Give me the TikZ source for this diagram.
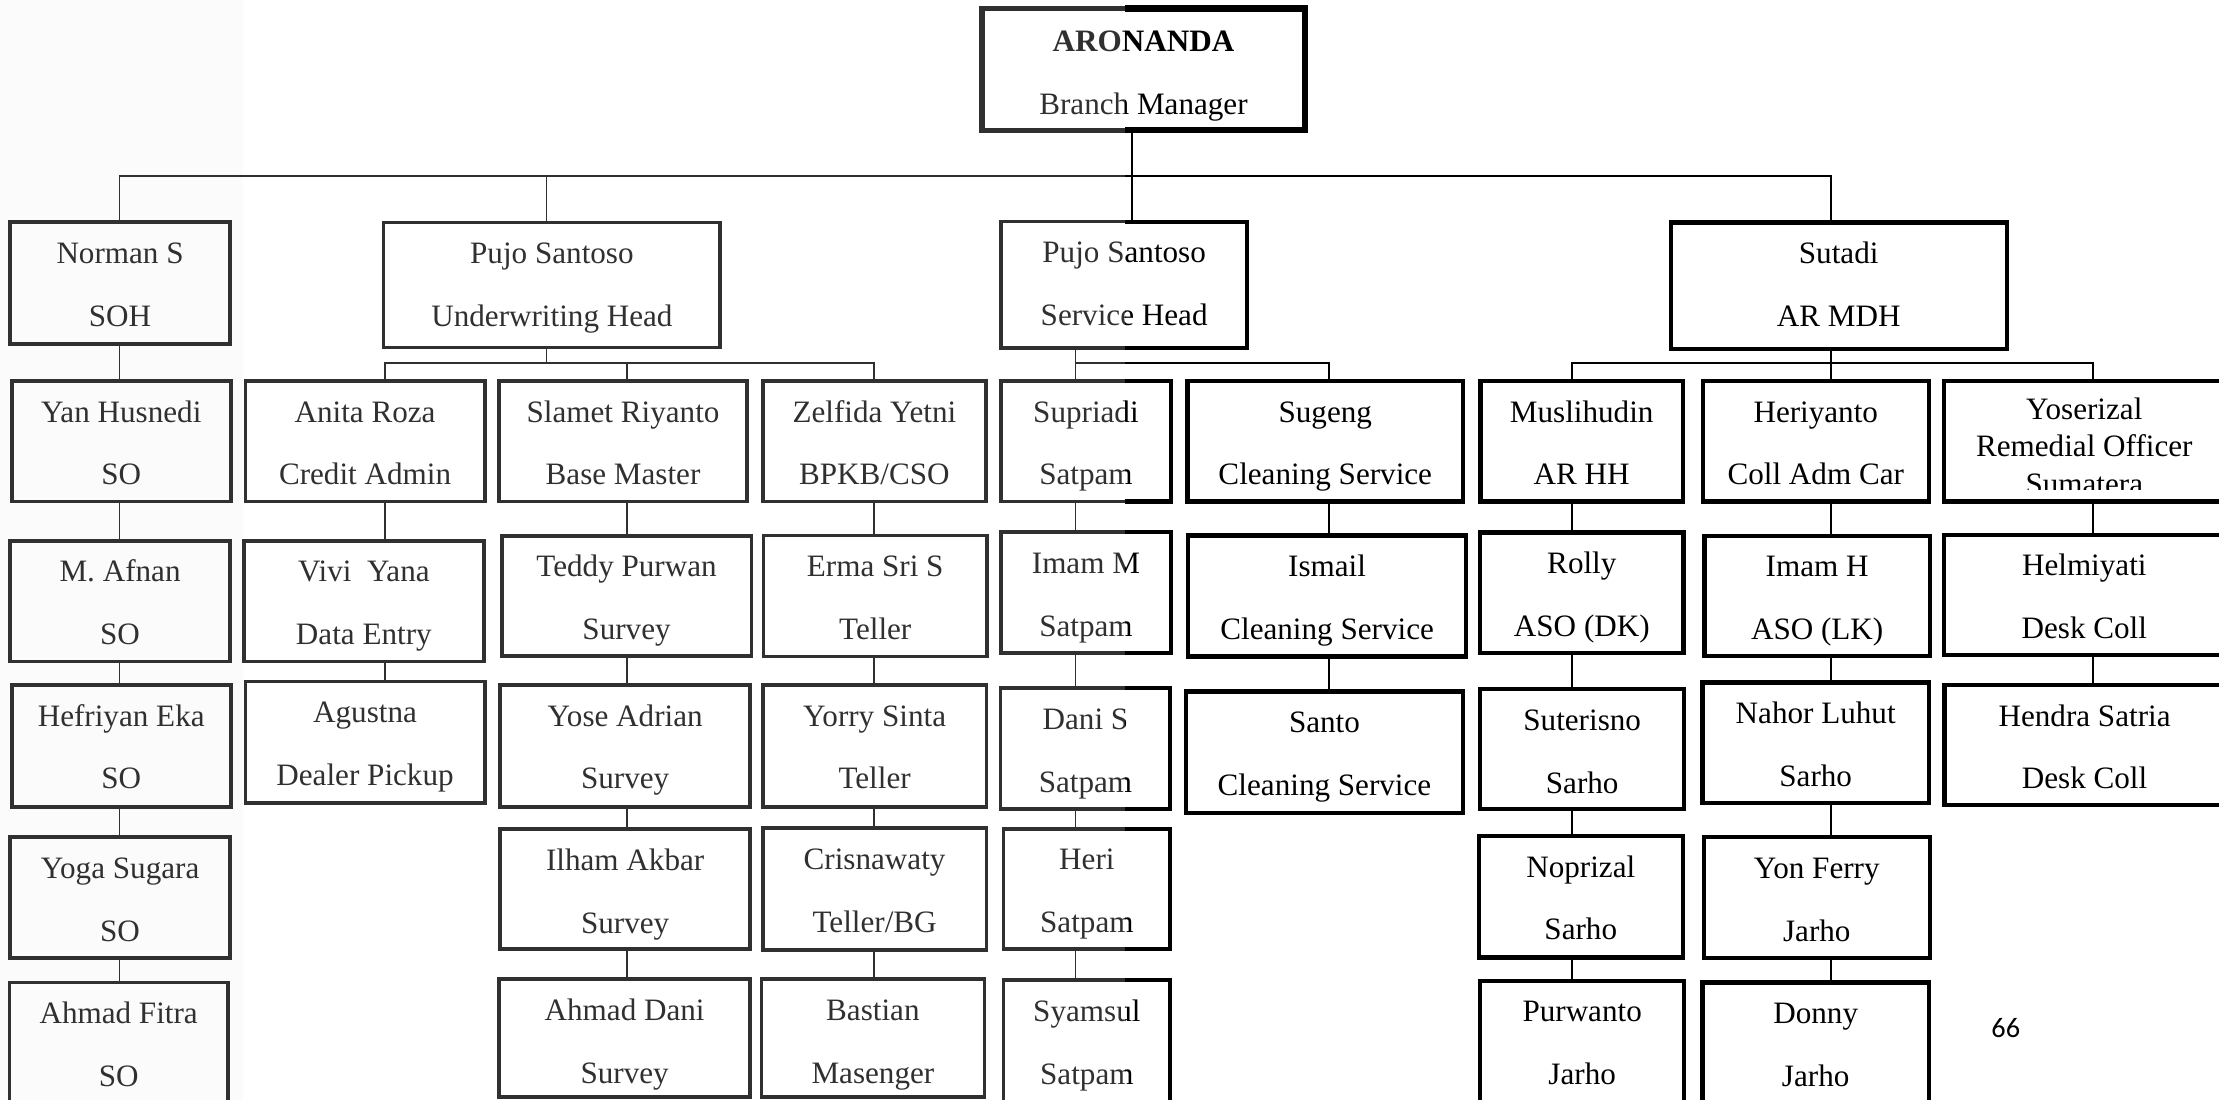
\documentclass[tikz,border=0pt]{standalone}
\usepackage{fontspec}
\setmainfont{Liberation Serif}
\newfontfamily\calfont{Carlito}
\definecolor{inkgray}{HTML}{303030}
\definecolor{stripgray}{HTML}{FBFBFB}
\tikzset{
  x=1pt, y=1pt,
  box/.style={draw, rectangle, inner sep=0pt},
  topbox/.style={box},
  conn/.style={draw},
  lbl/.style={anchor=base, inner sep=0pt, font=\fontsize{22}{26}\selectfont},
  pagenum/.style={anchor=base west, inner sep=0pt, font=\calfont\fontsize{20}{24}\selectfont},
  leftink/.style={
    box/.append style={draw=inkgray, line width=2.6pt},
    topbox/.append style={line width=3.8pt},
    conn/.append style={draw=inkgray, line width=1.3pt},
    lbl/.append style={text=inkgray},
    pagenum/.append style={text=inkgray}},
  rightink/.style={
    box/.append style={draw=black, line width=3pt},
    topbox/.append style={line width=4.4pt},
    conn/.append style={draw=black, line width=1.6pt},
    lbl/.append style={text=black},
    pagenum/.append style={text=black}}
}
% name, x1, y1, x2, y2 (top-left origin, y downwards), line 1, line 2
\newcommand\obox[7]{%
  \node[box, minimum width={(#4)-(#2)}, minimum height={(#5)-(#3)}] (#1) at ({((#2)+(#4))/2},{-((#3)+(#5))/2}) {};
  \node[lbl] (#1-a) at ({((#2)+(#4))/2},{-(#3)-29}) {#6};
  \node[lbl] (#1-b) at ({((#2)+(#4))/2},{-(#3)-73.5}) {#7};}
\newcommand\vlink[3]{\draw[conn] (#1.south -| #3) -- (#2.north -| #3);}
\newcommand\chartbody{%
  \coordinate (xa) at (84.4,0);
  \coordinate (xb) at (271.8,0);
  \coordinate (xc) at (443.2,0);
  \coordinate (xd) at (617.3,0);
  \coordinate (xe) at (760,0);
  \coordinate (xf) at (939.1,0);
  \coordinate (xg) at (1110.8,0);
  \coordinate (xh) at (1293.9,0);
  \coordinate (xi) at (1478.7,0);
  \coordinate (cuw) at (386.2,0);
  \coordinate (cm) at (799.7,0);
  \coordinate (bus1) at (0,-124.3);
  \coordinate (bus2) at (0,-256.7);
  % top
  \node[topbox, minimum width=228pt, minimum height=86pt] (aronanda) at (808,-49) {};
  \node[lbl] (aronanda-a) at (808,-36.5) {\textbf{ARONANDA}};
  \node[lbl] (aronanda-b) at (808,-81) {Branch Manager};
  % heads
  \obox{norman}{7.3}{157}{162.4}{243.3}{Norman S}{SOH}
  \obox{uwh}{271}{157.3}{509}{245.6}{Pujo Santoso}{Underwriting Head}
  \obox{svh}{707.3}{156.6}{881.4}{246.1}{Pujo Santoso}{Service Head}
  \obox{sutadi}{1180.5}{157.3}{1418}{246.8}{Sutadi}{AR MDH}
  % row 2
  \obox{yan}{8.3}{269.2}{163.1}{354.4}{Yan Husnedi}{SO}
  \obox{anita}{173.4}{269.2}{342.5}{354.4}{Anita Roza}{Credit Admin}
  \obox{slamet}{352.5}{269.2}{528}{354.4}{Slamet Riyanto}{Base Master}
  \obox{zelfida}{539}{269.2}{696.7}{354.4}{Zelfida Yetni}{BPKB/CSO}
  \obox{supriadi}{707.3}{269.2}{827.4}{354.4}{Supriadi}{Satpam}
  \obox{sugeng}{839.1}{269.2}{1033.8}{354.4}{Sugeng}{Cleaning Service}
  \obox{muslihudin}{1046.1}{269.2}{1189.2}{354.4}{Muslihudin}{AR HH}
  \obox{heriyanto}{1203.2}{269.2}{1362.9}{354.4}{Heriyanto}{Coll Adm Car}
  \node[box, minimum width=198.4pt, minimum height=85.2pt] (yoserizal) at (1472.8,-311.8) {};
  \node[lbl] (yoserizal-a) at (1472.8,-296.7) {Yoserizal};
  \node[lbl] (yoserizal-b) at (1472.8,-322.6) {Remedial Officer};
  \begin{scope}
    \clip (1375,-326) rectangle (1570,-346.2);
    \node[lbl] (yoserizal-c) at (1472.8,-349.6) {Sumatera};
  \end{scope}
  % row 3
  \obox{afnan}{7.3}{382.2}{162.4}{467.5}{M. Afnan}{SO}
  \obox{vivi}{172.4}{382.2}{341.8}{467.5}{Vivi\ \ Yana}{Data Entry}
  \obox{teddy}{354.5}{378.7}{531}{463.5}{Teddy Purwan}{Survey}
  \obox{erma}{539.6}{378.4}{697.3}{463.9}{Erma Sri S}{Teller}
  \obox{imamm}{707.3}{376}{827.4}{461.6}{Imam M}{Satpam}
  \obox{ismail}{839.7}{378.4}{1035.8}{463.9}{Ismail}{Cleaning Service}
  \obox{rolly}{1046}{376.3}{1189.5}{461.6}{Rolly}{ASO (DK)}
  \obox{imamh}{1204.5}{378.7}{1363.6}{463.5}{Imam H}{ASO (LK)}
  \obox{helmi}{1373.6}{378}{1572}{462.8}{Helmiyati}{Desk Coll}
  % row 4
  \obox{hefriyan}{8.3}{484}{163}{570}{Hefriyan Eka}{SO}
  \obox{agustna}{173.4}{481.6}{342.5}{567.6}{Agustna}{Dealer Pickup}
  \obox{yose}{353.5}{484}{530}{570}{Yose Adrian}{Survey}
  \obox{yorry}{539}{484}{697}{570}{Yorry Sinta}{Teller}
  \obox{danis}{707}{486.3}{827}{571.6}{Dani S}{Satpam}
  \obox{santo}{838}{488.7}{1033.8}{574.7}{Santo}{Cleaning Service}
  \obox{suterisno}{1046}{486.9}{1190}{571.8}{Suterisno}{Sarho}
  \obox{nahor}{1203}{482.3}{1363}{567.6}{Nahor Luhut}{Sarho}
  \obox{hendra}{1374}{484}{1572}{568.8}{Hendra Satria}{Desk Coll}
  % row 5
  \obox{yoga}{7.3}{591.6}{162.4}{677.1}{Yoga Sugara}{SO}
  \obox{ilham}{353.5}{586}{530}{670.8}{Ilham Akbar}{Survey}
  \obox{crisna}{539}{585.3}{697}{671.2}{Crisnawaty}{Teller/BG}
  \obox{heri}{709}{585.7}{827}{670.8}{Heri}{Satpam}
  \obox{noprizal}{1045}{590.7}{1189}{676.6}{Noprizal}{Sarho}
  \obox{yonferry}{1204}{591.6}{1363.6}{677.1}{Yon Ferry}{Jarho}
  % row 6
  \obox{ahmadfitra}{6.7}{694.3}{161}{790}{Ahmad Fitra}{SO}
  \obox{ahmaddani}{352.8}{692}{530}{775}{Ahmad Dani}{Survey}
  \obox{bastian}{538}{692}{695.6}{775.3}{Bastian}{Masenger}
  \obox{syamsul}{709}{692.5}{827}{790}{Syamsul}{Satpam}
  \obox{purwanto}{1046}{693.1}{1190}{790}{Purwanto}{Jarho}
  \obox{donny}{1203}{694.3}{1363}{790}{Donny}{Jarho}
  % top connectors
  \draw[conn] (aronanda.south -| cm) -- (svh.north -| cm);
  \draw[conn] (norman.north -| xa) -- (xa |- bus1) -- (xh |- bus1) -- (sutadi.north -| xh);
  \draw[conn] (uwh.north -| cuw) -- (cuw |- bus1);
  % second level buses
  \draw[conn] (uwh.south -| cuw) -- (cuw |- bus2);
  \draw[conn] (anita.north -| xb) -- (xb |- bus2) -- (xd |- bus2) -- (zelfida.north -| xd);
  \draw[conn] (slamet.north -| xc) -- (xc |- bus2);
  \draw[conn] (svh.south -| xe) -- (supriadi.north -| xe);
  \draw[conn] (xe |- bus2) -- (xf |- bus2) -- (sugeng.north -| xf);
  \draw[conn] (sutadi.south -| xh) -- (heriyanto.north -| xh);
  \draw[conn] (muslihudin.north -| xg) -- (xg |- bus2) -- (xi |- bus2) -- (yoserizal.north -| xi);
  % columns
  \vlink{norman}{yan}{xa}\vlink{yan}{afnan}{xa}\vlink{afnan}{hefriyan}{xa}\vlink{hefriyan}{yoga}{xa}\vlink{yoga}{ahmadfitra}{xa}
  \vlink{anita}{vivi}{xb}\vlink{vivi}{agustna}{xb}
  \vlink{slamet}{teddy}{xc}\vlink{teddy}{yose}{xc}\vlink{yose}{ilham}{xc}\vlink{ilham}{ahmaddani}{xc}
  \vlink{zelfida}{erma}{xd}\vlink{erma}{yorry}{xd}\vlink{yorry}{crisna}{xd}\vlink{crisna}{bastian}{xd}
  \vlink{supriadi}{imamm}{xe}\vlink{imamm}{danis}{xe}\vlink{danis}{heri}{xe}\vlink{heri}{syamsul}{xe}
  \vlink{sugeng}{ismail}{xf}\vlink{ismail}{santo}{xf}
  \vlink{muslihudin}{rolly}{xg}\vlink{rolly}{suterisno}{xg}\vlink{suterisno}{noprizal}{xg}\vlink{noprizal}{purwanto}{xg}
  \vlink{heriyanto}{imamh}{xh}\vlink{imamh}{nahor}{xh}\vlink{nahor}{yonferry}{xh}\vlink{yonferry}{donny}{xh}
  \vlink{yoserizal}{helmi}{xi}\vlink{helmi}{hendra}{xi}
  % page number
  \node[pagenum] (pg) at (1407,-732.9) {66};
}
\begin{document}
\begin{tikzpicture}
  \useasboundingbox (0,0) rectangle (1568,-777);
  \fill[white] (0,0) rectangle (1568,-777);
  \fill[stripgray] (0,0) rectangle (172,-777);
  \begin{scope}[leftink]
    \clip (0,0) rectangle (795,-777);
    \chartbody
  \end{scope}
  \begin{scope}[rightink]
    \clip (795,0) rectangle (1568,-777);
    \chartbody
  \end{scope}
\end{tikzpicture}
\end{document}
